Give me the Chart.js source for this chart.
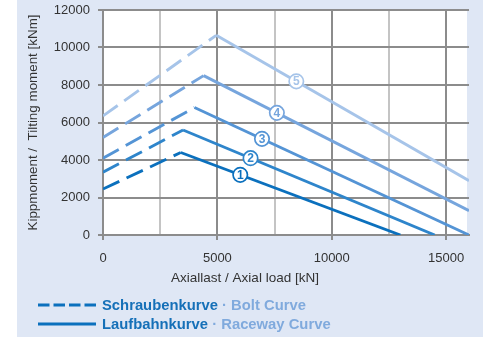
<!DOCTYPE html>
<html>
<head>
<meta charset="utf-8">
<script src="https://cdn.jsdelivr.net/npm/chart.js@4"></script>
<style>
  html, body { margin: 0; padding: 0; }
  body { width: 483px; height: 337px; background: linear-gradient(to right, #ffffff 17px, #dfe7f5 17px); }
  #wrap { position: relative; width: 483px; height: 337px; }
</style>
</head>
<body>
<div id="wrap"><canvas id="chart"></canvas></div>
<script>
'use strict';
// curves 1..5: bolt curve (dashed) from 0 to the peak, raceway curve (solid) from peak to end
const curveNames = ['1', '2', '3', '4', '5'];
const boltStartMoment = [2450, 3350, 4100, 5200, 6350];
const peakLoad = [3400, 3500, 4000, 4400, 4950];
const peakMoment = [4400, 5600, 6800, 8500, 10650];
const raceEndLoad = [13000, 14500, 16000, 16000, 16000];
const raceEndMoment = [0, 0, 0, 1300, 2900];
const labelLoad = [6000, 6450, 6950, 7600, 8450];
const curveColors = ['#0b70bd', '#2e85cb', '#5494d5', '#76a5dd', '#a6c4e9'];

const xGrid = [0, 2500, 5000, 7500, 10000, 12500, 15000];
const xTicks = [0, 5000, 10000, 15000];
const yTicks = [0, 2000, 4000, 6000, 8000, 10000, 12000];

const datasets = [];
curveNames.forEach((name, i) => {
    datasets.push({
        label: 'Schraubenkurve ' + name,
        data: [{x: 0, y: boltStartMoment[i]}, {x: peakLoad[i], y: peakMoment[i]}],
        borderColor: curveColors[i],
        borderWidth: 2.9,
        borderDash: [18, 8],
        pointRadius: 0
    });
    datasets.push({
        label: 'Laufbahnkurve ' + name,
        data: [{x: peakLoad[i], y: peakMoment[i]}, {x: raceEndLoad[i], y: raceEndMoment[i]}],
        borderColor: curveColors[i],
        borderWidth: 2.9,
        pointRadius: 0
    });
});

const FONT = '"Liberation Sans", Arial, sans-serif';
const DARK = '#8c8c8c';
const LIGHT = '#c4c4c4';

// white plot area
const plotBg = {
    id: 'plotBg',
    beforeDraw(chart) {
        const {ctx, chartArea: a} = chart;
        ctx.save();
        ctx.fillStyle = '#ffffff';
        ctx.fillRect(a.left, a.top, a.right - a.left - 2, a.bottom - a.top);
        ctx.restore();
    }
};

// numbered circles on the raceway curves
const curveLabels = {
    id: 'curveLabels',
    afterDatasetsDraw(chart) {
        const {ctx, scales: {x, y}} = chart;
        ctx.save();
        curveNames.forEach((name, i) => {
            const t = (labelLoad[i] - peakLoad[i]) / (raceEndLoad[i] - peakLoad[i]);
            const m = peakMoment[i] + t * (raceEndMoment[i] - peakMoment[i]);
            const px = x.getPixelForValue(labelLoad[i]);
            const py = y.getPixelForValue(m);
            ctx.beginPath();
            ctx.arc(px, py, 7.2, 0, Math.PI * 2);
            ctx.fillStyle = '#ffffff';
            ctx.fill();
            ctx.lineWidth = 1.7;
            ctx.strokeStyle = curveColors[i];
            ctx.stroke();
            ctx.fillStyle = curveColors[i];
            ctx.font = 'bold 12px ' + FONT;
            ctx.textAlign = 'center';
            ctx.textBaseline = 'middle';
            ctx.fillText(name, px, py + 0.5);
        });
        ctx.restore();
    }
};

// x axis title (sits left of the plot centre in the original) and the legend rows
const legendRows = [
    {dash: [11.5, 4], de: 'Schraubenkurve', en: ' \u00b7 Bolt Curve'},
    {dash: [], de: 'Laufbahnkurve', en: ' \u00b7 Raceway Curve'}
];
const legendPlugin = {
    id: 'legendRows',
    afterDraw(chart) {
        const ctx = chart.ctx;
        ctx.save();
        ctx.font = '13.5px ' + FONT;
        ctx.fillStyle = '#333333';
        ctx.textAlign = 'center';
        ctx.textBaseline = 'middle';
        ctx.fillText('Axiallast / Axial load [kN]', 245, 278);

        legendRows.forEach((row, i) => {
            const yy = 305 + i * 19;
            ctx.beginPath();
            ctx.setLineDash(row.dash);
            ctx.lineWidth = 3;
            ctx.strokeStyle = '#0b70bd';
            ctx.moveTo(38, yy);
            ctx.lineTo(96, yy);
            ctx.stroke();
            ctx.setLineDash([]);
            ctx.font = 'bold 14.8px ' + FONT;
            ctx.textBaseline = 'middle';
            ctx.textAlign = 'left';
            ctx.fillStyle = '#1570b8';
            ctx.fillText(row.de, 102, yy + 1);
            const w = ctx.measureText(row.de).width;
            ctx.fillStyle = '#80aadd';
            ctx.fillText(row.en, 102 + w, yy + 1);
        });
        ctx.restore();
    }
};

const ctx = document.getElementById('chart').getContext('2d');
new Chart(ctx, {
    type: 'line',
    data: {datasets: datasets},
    plugins: [plotBg, curveLabels, legendPlugin],
    options: {
        responsive: true,
        maintainAspectRatio: false,
        animation: false,
        layout: {padding: {top: 10, right: 14, bottom: 47, left: 0}},
        plugins: {legend: {display: false}, tooltip: {enabled: false}},
        scales: {
            x: {
                type: 'linear',
                min: 0,
                max: 16000,
                afterFit(scale) { scale.height = 55; },
                afterBuildTicks(scale) { scale.ticks = xGrid.map(v => ({value: v})); },
                ticks: {
                    padding: 11,
                    maxRotation: 0,
                    autoSkip: false,
                    color: '#333333',
                    font: {family: FONT, size: 13},
                    callback: v => xTicks.includes(v) ? String(v) : ''
                },
                grid: {
                    lineWidth: 2,
                    tickLength: 5,
                    color: xGrid.map(v => v % 5000 === 0 ? DARK : LIGHT),
                    tickColor: xGrid.map(v => v % 5000 === 0 ? DARK : 'rgba(0,0,0,0)')
                },
                border: {display: true, color: DARK, width: 2}
            },
            y: {
                min: 0,
                max: 12000,
                afterFit(scale) { scale.width = 103; scale.paddingTop = 0; },
                afterBuildTicks(scale) { scale.ticks = yTicks.map(v => ({value: v})); },
                ticks: {
                    padding: 8,
                    color: '#333333',
                    font: {family: FONT, size: 13},
                    callback: v => String(v)
                },
                grid: {lineWidth: 2, tickLength: 5, color: DARK},
                border: {display: true, color: DARK, width: 2},
                title: {
                    display: true,
                    text: 'Kippmoment /  Tilting moment [kNm]',
                    color: '#333333',
                    font: {family: FONT, size: 13.4},
                    padding: {top: 25, bottom: 0}
                }
            }
        }
    }
});
</script>
</body>
</html>
